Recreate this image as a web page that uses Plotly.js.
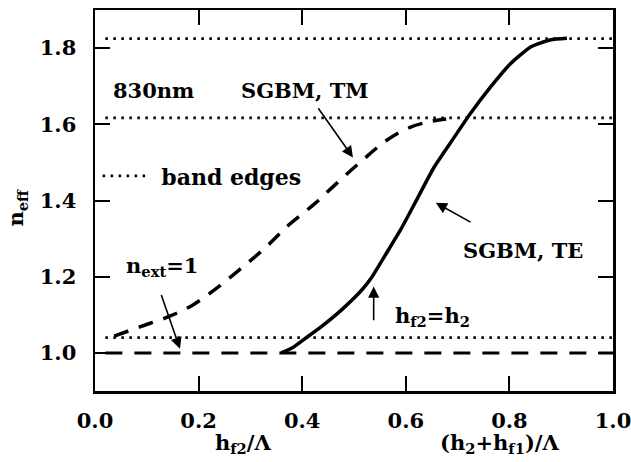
<!DOCTYPE html>
<html>
<head>
<meta charset="utf-8">
<script src="https://cdn.plot.ly/plotly-3.0.1.min.js"></script>
<style>
html,body{margin:0;padding:0;background:#fff;}
#chart{width:631px;height:462px;}
</style>
</head>
<body>
<div id="chart"></div>
<script>
// TE mode (solid) - SGBM, TE
const teX = [0.36, 0.383, 0.406, 0.437, 0.476, 0.515, 0.534, 0.561, 0.592, 0.623, 0.654, 0.693, 0.724, 0.763, 0.802, 0.841, 0.880, 0.911];
const teY = [1.0, 1.015, 1.038, 1.069, 1.113, 1.165, 1.198, 1.258, 1.328, 1.407, 1.486, 1.565, 1.627, 1.697, 1.759, 1.803, 1.822, 1.826];
// TM mode (dashed) - SGBM, TM
const tmX = [0.037, 0.088, 0.142, 0.189, 0.235, 0.282, 0.328, 0.375, 0.422, 0.468, 0.515, 0.561, 0.608, 0.647, 0.678];
const tmY = [1.044, 1.069, 1.095, 1.126, 1.170, 1.222, 1.275, 1.337, 1.389, 1.447, 1.504, 1.556, 1.592, 1.607, 1.614];
// band edges (dotted)
const bandEdges = [1.04, 1.617, 1.825];
const bandStart = 0.02, bandEnd = 1.0;
// external index line
const nExt = 1.0;
const extX = [0.02, 1.0];
// ticks
const xTicks = [0.0, 0.2, 0.4, 0.6, 0.8, 1.0];
const yTicks = [1.0, 1.2, 1.4, 1.6, 1.8];

const FONT = '"DejaVu Serif", "Liberation Serif", serif';

const bx = [], by = [];
bandEdges.forEach((v, i) => {
  if (i) { bx.push(null); by.push(null); }
  bx.push(bandStart, bandEnd); by.push(v, v);
});

const traces = [
  {x: bx, y: by, mode: 'lines', name: '\u00a0band edges', showlegend: true,
   line: {color: '#000', width: 2.8, dash: '2.5px,5.5px'}, hoverinfo: 'skip'},
  {x: extX, y: extX.map(() => nExt), mode: 'lines', showlegend: false,
   line: {color: '#000', width: 3, dash: '17px,12px'}},
  {x: tmX, y: tmY, mode: 'lines', showlegend: false,
   line: {color: '#000', width: 3.5, dash: '15px,11px', shape: 'spline', smoothing: 1}},
  {x: teX, y: teY, mode: 'lines', showlegend: false,
   line: {color: '#000', width: 3.5, shape: 'spline', smoothing: 0.5}}
];

const tf = {family: FONT, size: 21, color: '#000', weight: 'bold'};
function txt(text, x, y, extra) {
  return Object.assign({text: text, x: x, y: y, xref: 'x', yref: 'y', showarrow: false, font: tf}, extra || {});
}
function arrow(x, y, ax, ay) {
  return {text: '', x: x, y: y, ax: ax, ay: ay, xref: 'x', yref: 'y', axref: 'x', ayref: 'y',
          showarrow: true, arrowhead: 2, arrowsize: 1.4, arrowwidth: 1.6, arrowcolor: '#000'};
}

const annotations = [
  txt('830nm', 0.03, 1.69, {xanchor: 'left'}),
  txt('SGBM, TM', 0.406, 1.69),
  arrow(0.498, 1.513, 0.429, 1.646),
  txt('SGBM, TE', 0.827, 1.268),
  arrow(0.658, 1.394, 0.728, 1.341),
  txt('n<sub>ext</sub>=1', 0.13, 1.228),
  arrow(0.164, 1.011, 0.127, 1.156),
  txt('h<sub>f2</sub>=h<sub>2</sub>', 0.652, 1.095),
  arrow(0.538, 1.174, 0.538, 1.082),
  {text: 'n<sub>eff</sub>', xref: 'paper', yref: 'y', x: 0, y: 1.38, xshift: -94, textangle: -90,
   showarrow: false, font: tf},
  {text: 'h<sub>f2</sub>/Λ', xref: 'x', yref: 'paper', x: 0.286, y: 0, yshift: -37, yanchor: 'top',
   showarrow: false, font: tf},
  {text: '(h<sub>2</sub>+h<sub>f1</sub>)/Λ', xref: 'x', yref: 'paper', x: 0.78, y: 0, yshift: -37, yanchor: 'top',
   showarrow: false, font: tf}
];

const axCommon = {
  showgrid: false, zeroline: false, showline: true, linecolor: '#000', linewidth: 2.5,
  mirror: 'ticks', ticks: 'inside', ticklen: 15, tickwidth: 2, tickcolor: '#000',
  tickfont: {family: FONT, size: 21, color: '#000', weight: 'bold'}, tickformat: '.1f',
  ticklabeloverflow: 'allow'
};

const layout = {
  width: 631, height: 462,
  margin: {l: 95, r: 18, t: 10, b: 71},
  paper_bgcolor: '#fff', plot_bgcolor: '#fff',
  xaxis: Object.assign({}, axCommon, {range: [0, 1], tickvals: xTicks, ticklabelstandoff: 9}),
  yaxis: Object.assign({}, axCommon, {range: [0.9, 1.9], tickvals: yTicks, ticklabelstandoff: 12}),
  showlegend: true,
  legend: {x: 0.005, y: 0.564, xanchor: 'left', yanchor: 'middle', bgcolor: 'rgba(0,0,0,0)',
           borderwidth: 0, itemwidth: 46,
           font: {family: FONT, size: 22, color: '#000', weight: 'bold'}},
  annotations: annotations
};

Plotly.newPlot('chart', traces, layout, {staticPlot: true, displayModeBar: false});
</script>
</body>
</html>
